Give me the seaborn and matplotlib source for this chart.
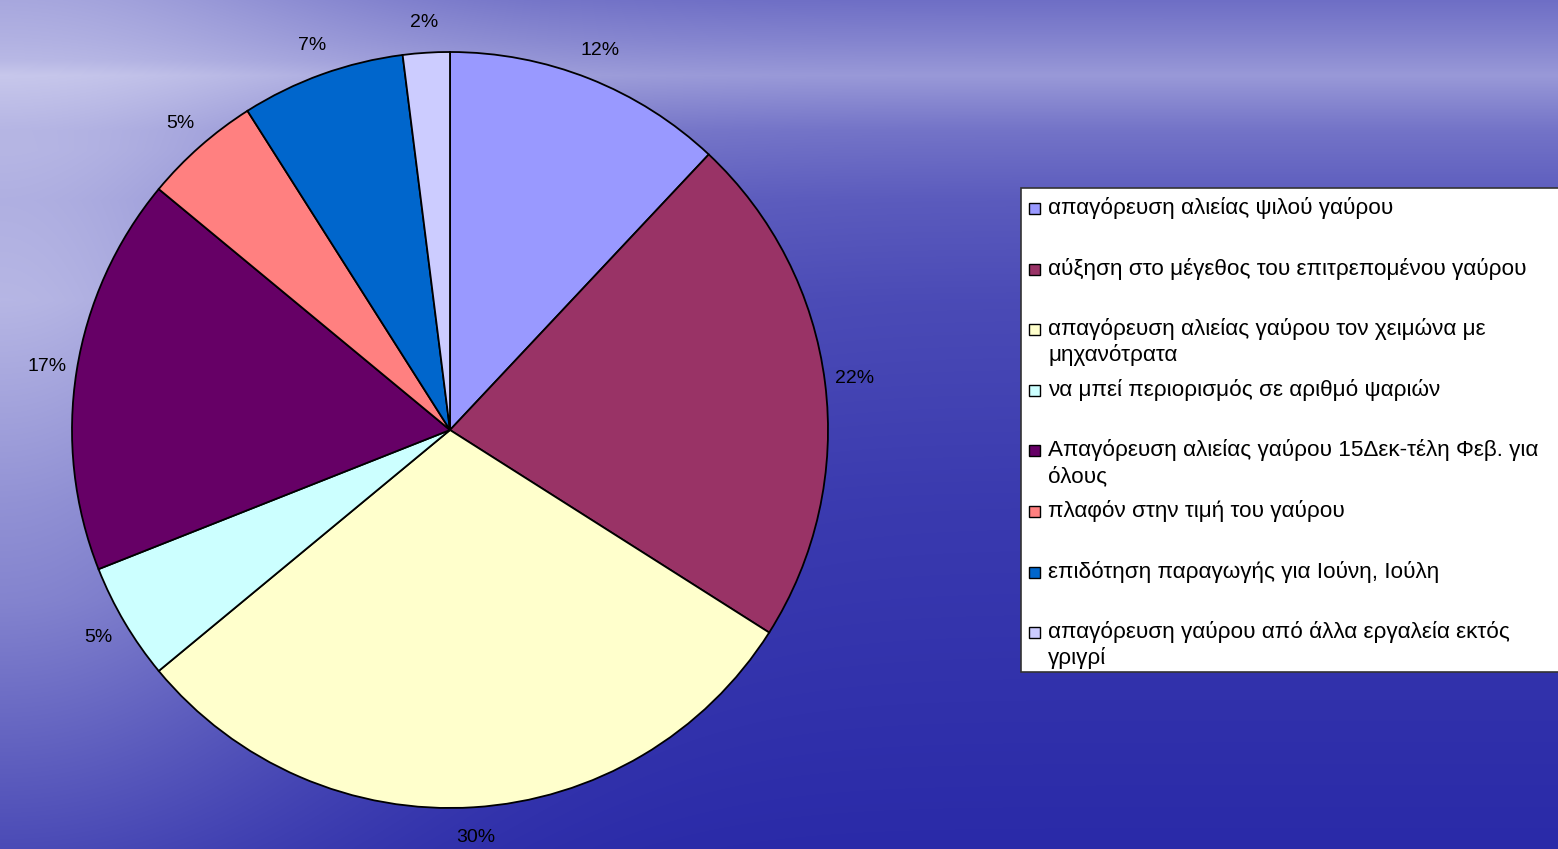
import numpy as np
import matplotlib
matplotlib.use("Agg")
import matplotlib.pyplot as plt
from matplotlib.patches import Rectangle
import seaborn as sns

# ---- data ----
categories = [
    "απαγόρευση αλιείας ψιλού γαύρου",
    "αύξηση στο μέγεθος του επιτρεπομένου γαύρου",
    "απαγόρευση αλιείας γαύρου τον χειμώνα με\nμηχανότρατα",
    "να μπεί περιορισμός σε αριθμό ψαριών",
    "Απαγόρευση αλιείας γαύρου 15Δεκ-τέλη Φεβ. για\nόλους",
    "πλαφόν στην τιμή του γαύρου",
    "επιδότηση παραγωγής για Ιούνη, Ιούλη",
    "απαγόρευση γαύρου από άλλα εργαλεία εκτός\nγριγρί",
]
percentages = [12, 22, 30, 5, 17, 5, 7, 2]
colors = ["#9999FF", "#993366", "#FFFFCC", "#CCFFFF",
          "#660066", "#FF8080", "#0066CC", "#CCCCFF"]

sns.set_theme(style="white")
plt.rcParams['font.family'] = ['Liberation Sans', 'DejaVu Sans']

W, H = 1558, 849
fig = plt.figure(figsize=(W / 100, H / 100), dpi=100)

def fx(x):
    return x / W

def fy(y):
    return 1 - y / H

# ---- background (smooth blue sea/sky gradient) ----
bg = fig.add_axes([0, 0, 1, 1], zorder=0)
ys = np.arange(H)
xs = np.arange(W)
v = np.interp(ys, [0, 40, 75, 130, 200, 300, 500, 849],
              [0.42, 0.55, 0.68, 0.45, 0.30, 0.20, 0.10, 0.0])
wl = np.interp(ys, [0, 60, 150, 300, 600, 849],
               [0.35, 0.25, 0.45, 0.66, 0.48, 0.20])
hx = np.exp(-(xs / 380.0) ** 2)
t = np.clip(v[:, None] + wl[:, None] * hx[None, :], 0, 1)
light = np.array([205, 205, 238]) / 255.0
dark = np.array([42, 42, 168]) / 255.0
img = dark[None, None, :] + t[:, :, None] * (light - dark)[None, None, :]
bg.imshow(img, extent=[0, W, H, 0], aspect='auto', interpolation='bilinear')
bg.set_xlim(0, W)
bg.set_ylim(H, 0)
bg.axis('off')

# ---- pie ----
cx, cy, r = 450, 430, 378
ax = fig.add_axes([fx(cx - r), fy(cy + r), 2 * r / W, 2 * r / H], zorder=2)
ax.patch.set_alpha(0)
wedges, _, autotexts = ax.pie(
    percentages, colors=colors, startangle=90, counterclock=False,
    autopct=lambda p: f"{p:.0f}%", pctdistance=1.08,
    wedgeprops=dict(edgecolor="black", linewidth=1.3),
    textprops=dict(fontsize=14, color="black"),
)
ax.set_xlim(-1, 1)
ax.set_ylim(-1, 1)
ax.axis('off')

# ---- legend (manual, box clipped at right edge) ----
fig.patches.append(Rectangle((fx(1021), fy(672)), fx(1570) - fx(1021), fy(188) - fy(672),
                             transform=fig.transFigure, facecolor="white",
                             edgecolor="#333333", linewidth=1.2, zorder=3))
row0, step, line2 = 208, 60.6, 26
for i, (lab, col) in enumerate(zip(categories, colors)):
    yc = row0 + i * step
    fig.patches.append(Rectangle((fx(1029), fy(yc + 6)), 11 / W, 11 / H,
                                 transform=fig.transFigure, facecolor=col,
                                 edgecolor="black", linewidth=1.0, zorder=4))
    for j, line in enumerate(lab.split("\n")):
        fig.text(fx(1048), fy(yc + j * line2), line, fontsize=16.2,
                 ha='left', va='center', color="black", zorder=5)

fig.savefig("out.png", dpi=100)
